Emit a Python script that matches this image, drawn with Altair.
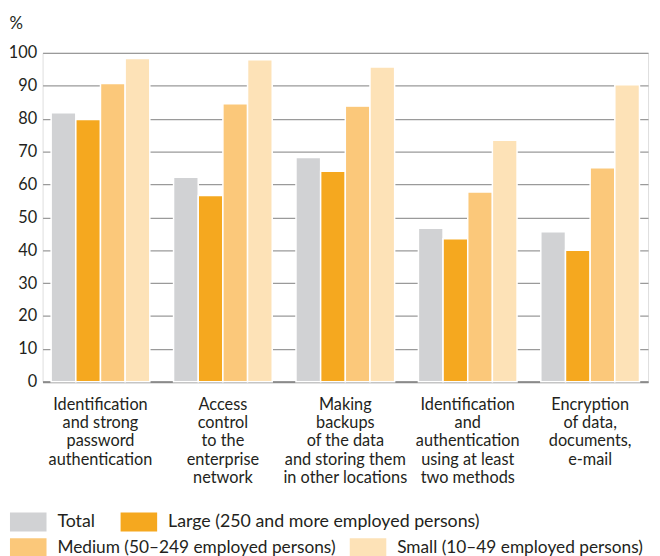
import altair as alt
import pandas as pd

categories = [
    "Identification|and strong|password|authentication",
    "Access|control|to the|enterprise|network",
    "Making|backups|of the data|and storing them|in other locations",
    "Identification|and|authentication|using at least|two methods",
    "Encryption|of data,|documents,|e-mail",
]
series = [
    "Total",
    "Large (250 and more employed persons)",
    "Medium (50–249 employed persons)",
    "Small (10–49 employed persons)",
]
colors = ["#d1d2d4", "#f5a81f", "#fbc87a", "#fde2b7"]

total = [81.8, 62.2, 68.2, 46.7, 45.6]
large = [79.7, 56.6, 64.0, 43.5, 40.0]
medium = [90.7, 84.5, 83.8, 57.7, 65.1]
small = [98.3, 97.9, 95.7, 73.4, 90.3]

rows = []
for s, vals in zip(series, [total, large, medium, small]):
    for c, v in zip(categories, vals):
        rows.append({"cat": c, "series": s, "value": v})
df = pd.DataFrame(rows)

FONT = "Lato"
TXT = "#231f20"

x_enc = alt.X(
    "cat:N",
    sort=categories,
    scale=alt.Scale(paddingInner=0.194, paddingOuter=0.07),
    axis=alt.Axis(
        title=None,
        labelAngle=0,
        labelExpr="split(datum.label, '|')",
        labelFont=FONT,
        labelFontSize=16.5,
        labelColor=TXT,
        labelLineHeight=18.5,
        labelBaseline="top",
        labelPadding=15,
        ticks=False,
        domainColor="#8a8a8a",
        domainWidth=2,
        labelLimit=220,
    ),
)
xoff_enc = alt.XOffset("series:N", sort=series, scale=alt.Scale(domain=series, paddingInner=0))
y_enc = alt.Y(
    "value:Q",
    scale=alt.Scale(domain=[0, 100], nice=False),
    axis=alt.Axis(
        title="%",
        titleAngle=0,
        titleX=-34,
        titleY=-25,
        titleAlign="left",
        titleBaseline="alphabetic",
        titleFont=FONT,
        titleFontSize=17,
        titleFontWeight="normal",
        titleColor=TXT,
        values=list(range(0, 101, 10)),
        labelFont=FONT,
        labelFontSize=16.5,
        labelColor=TXT,
        labelPadding=6,
        ticks=False,
        domain=False,
        gridColor="#9a9a9a",
        gridWidth=1.3,
    ),
)


def legend(y, colpad, size):
    return alt.Legend(
        title=None,
        orient="none",
        legendX=-33,
        legendY=y,
        direction="horizontal",
        symbolType="M-1,-0.514H1V0.514H-1Z",
        symbolSize=1369,
        symbolStrokeWidth=0,
        symbolOpacity=1,
        labelFont=FONT,
        labelFontSize=size,
        labelColor=TXT,
        labelOffset=11,
        columnPadding=colpad,
        labelLimit=400,
    )


base = alt.Chart(df).mark_bar(stroke="white", strokeWidth=1.5)

layer1 = base.transform_filter(
    alt.FieldOneOfPredicate(field="series", oneOf=series[:2])
).encode(
    x=x_enc,
    xOffset=xoff_enc,
    y=y_enc,
    color=alt.Color(
        "series:N",
        sort=series[:2],
        scale=alt.Scale(domain=series[:2], range=colors[:2]),
        legend=legend(456, 25, 18),
    ),
)

layer2 = base.transform_filter(
    alt.FieldOneOfPredicate(field="series", oneOf=series[2:])
).encode(
    x=x_enc,
    xOffset=xoff_enc,
    y=y_enc,
    color=alt.Color(
        "series:N",
        sort=series[2:],
        scale=alt.Scale(domain=series[2:], range=colors[2:]),
        legend=legend(482, 14, 17.5),
    ),
)

chart = (
    alt.layer(layer1, layer2)
    .resolve_scale(color="independent")
    .resolve_legend(color="independent")
    .properties(
        width=613,
        height=333,
        autosize=alt.AutoSizeParams(type="none"),
        padding={"left": 35, "top": 42, "right": 4, "bottom": 173},
    )
    .configure_view(stroke=None)
    .configure(background="white")
)

chart.save("out.html", embed_options={"renderer": "svg", "actions": False})
